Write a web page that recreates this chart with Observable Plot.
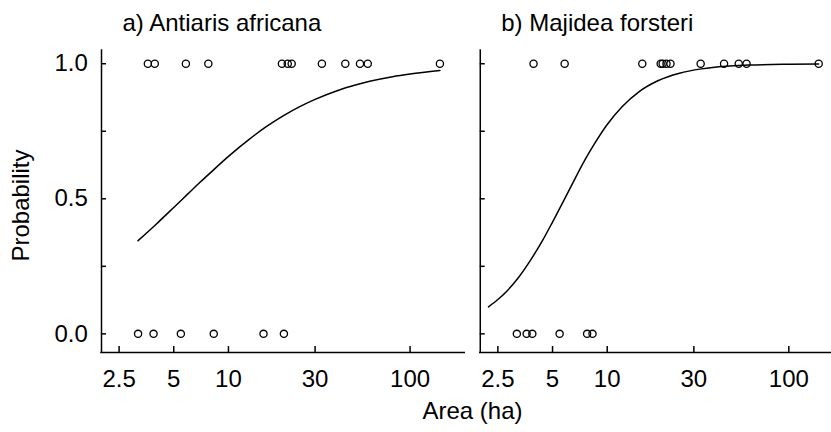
<!DOCTYPE html>
<html><head><meta charset="utf-8">
<script src="https://cdn.jsdelivr.net/npm/d3@7"></script>
<script src="https://cdn.jsdelivr.net/npm/@observablehq/plot@0.6"></script>
<style>
html,body{margin:0;padding:0;background:#fff;overflow:hidden;}
#chart{width:831px;height:432px;overflow:hidden;}
#chart svg{max-width:none !important;width:843px !important;height:432px !important;}
</style></head><body><div id="chart"></div>
<script>
const species = ["a) Antiaris africana", "b) Majidea forsteri"];
// site areas (ha) and presence (1) / absence (0) of each species
const areas     = [3.18, 3.6, 3.87, 3.93, 5.47, 5.83, 7.75, 8.3, 15.6, 19.7, 20.2, 21.2, 22.3, 32.7, 44, 53, 58.5, 146];
const presenceA = [0,    1,   0,    1,    0,    1,    1,    0,   0,    1,    0,    1,    1,    1,    1,  1,  1,    1];
const presenceB = [0,    0,   0,    1,    0,    1,    0,    0,   1,    1,    1,    1,    1,    1,    1,  1,  1,    1];
// fitted probability curves
const curveAreaA = [3.18, 4, 5, 6, 7, 8, 10, 13, 16, 20, 25, 30, 40, 50, 60, 80, 100, 146];
const curveProbA = [0.345, 0.406, 0.468, 0.519, 0.562, 0.598, 0.657, 0.72, 0.765, 0.807, 0.843, 0.868, 0.901, 0.921, 0.935, 0.952, 0.962, 0.975];
const curveAreaB = [2.22, 2.5, 2.8, 3.2, 3.8, 4.4, 5.0, 5.8, 6.5, 7.5, 8.5, 10, 12, 15, 19, 25, 33, 45, 60, 100, 146];
const curveProbB = [0.10, 0.127, 0.158, 0.203, 0.275, 0.345, 0.414, 0.497, 0.562, 0.641, 0.703, 0.775, 0.839, 0.897, 0.937, 0.965, 0.981, 0.991, 0.995, 0.998, 0.999];
const xTicks = [2.5, 5, 10, 30, 100];
const xTickLabels = ["2.5", "5", "10", "30", "100"];
const yTicks = [0, 0.25, 0.5, 0.75, 1];
const yLabelTicks = [0, 0.5, 1];
const yTickLabels = ["0.0", "0.5", "1.0"];

const points = areas.flatMap((a, i) => [
  {species: species[0], area: a, p: presenceA[i]},
  {species: species[1], area: a, p: presenceB[i]}
]);
const curves = [
  ...curveAreaA.map((a, i) => ({species: species[0], area: a, p: curveProbA[i]})),
  ...curveAreaB.map((a, i) => ({species: species[1], area: a, p: curveProbB[i]}))
];

const font = "'Liberation Sans', Arial, Helvetica, sans-serif";
const xDom = [2, 200];
const yDom = [-0.069, 1.049];
const chart = Plot.plot({
  width: 843, height: 432,
  marginLeft: 101, marginRight: 0, marginTop: 50, marginBottom: 80,
  style: {fontFamily: font, fontSize: "24px", color: "#000", background: "#fff"},
  fx: {domain: species, paddingInner: 0.041, paddingOuter: 0, round: false, axis: null, label: null},
  x: {type: "log", domain: xDom, axis: null},
  y: {domain: yDom, axis: null},
  marks: [
    Plot.ruleX([xDom[0]], {strokeWidth: 1.5, strokeLinecap: "square"}),
    Plot.ruleY([yDom[0]], {strokeWidth: 1.5, strokeLinecap: "square"}),
    Plot.axisY({ticks: yTicks, tickSize: 5, dx: 5, tickFormat: () => "", label: null, facetAnchor: null, strokeWidth: 1.5}),
    Plot.axisY({ticks: yLabelTicks, tickSize: 0, tickPadding: 13.7, tickFormat: d => yTickLabels[yLabelTicks.indexOf(d)], label: null, fontSize: 24}),
    Plot.axisX({ticks: xTicks, tickSize: 6, dy: -6, tickFormat: () => "", label: null, strokeWidth: 1.5}),
    Plot.axisX({ticks: xTicks, tickSize: 0, tickPadding: 17, tickFormat: d => xTickLabels[xTicks.indexOf(d)], label: "Area (ha)", labelAnchor: "center", labelOffset: 66, labelArrow: "none", fontSize: 24}),
    Plot.text(species, {fx: d => d, text: d => d, frameAnchor: "top-left", textAnchor: "start", lineAnchor: "top", dx: 21, dy: -37, fontSize: 24}),
    Plot.text(["Probability"], {fx: () => species[0], text: d => d, frameAnchor: "left", textAnchor: "middle", lineAnchor: "middle", rotate: -90, dx: -80, dy: 4, fontSize: 24}),
    Plot.line(curves, {x: "area", y: "p", fx: "species", curve: "monotone-x", strokeWidth: 1.5}),
    Plot.dot(points, {x: "area", y: "p", fx: "species", r: 3.6, stroke: "black", strokeWidth: 1.3, fill: "none"})
  ]
});
document.getElementById("chart").append(chart);
</script></body></html>
